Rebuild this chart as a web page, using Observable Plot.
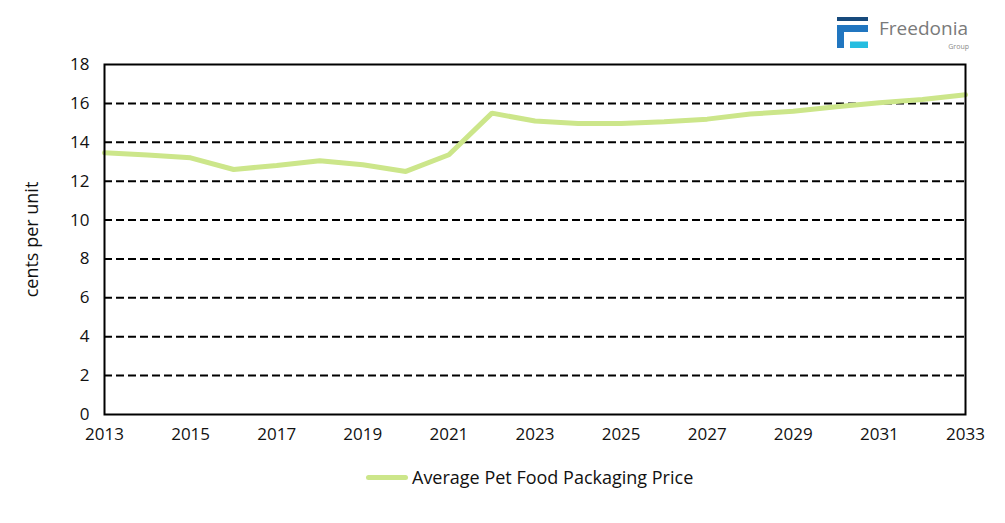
<!DOCTYPE html>
<html>
<head>
<meta charset="utf-8">
<script src="https://cdn.jsdelivr.net/npm/d3@7"></script>
<script src="https://cdn.jsdelivr.net/npm/@observablehq/plot@0.6"></script>
<style>
  html, body { margin: 0; padding: 0; background: #fff; }
  body { width: 1005px; height: 523px; position: relative; overflow: hidden; font-family: "Open Sans", "Noto Sans", sans-serif; }
  #chart { position: absolute; left: 0; top: 0; }
  #logo { position: absolute; left: 830px; top: 10px; }
  #legend { position: absolute; left: 366px; top: 465px; display: flex; align-items: center; font-size: 18px; color: #111; }
  #legend .sw { width: 42px; height: 5px; border-radius: 3px; background: #cce68a; margin-right: 4px; }
</style>
</head>
<body>
<div id="chart"></div>
<svg id="logo" width="170" height="45" viewBox="830 10 170 45">
  <rect x="837" y="17" width="31" height="4" fill="#174a7c"/>
  <path d="M837 25 H868 V32 H844 V48 H837 Z" fill="#2176c0"/>
  <rect x="850" y="41.5" width="18" height="6.5" fill="#25bde0"/>
  <text x="968" y="35" text-anchor="end" font-family="Open Sans, sans-serif" font-size="19" fill="#7a7a7a">Freedonia</text>
  <text x="969" y="49" text-anchor="end" font-family="Open Sans, sans-serif" font-size="7" fill="#8a8a8a">Group</text>
</svg>
<div id="legend"><div class="sw"></div><span>Average Pet Food Packaging Price</span></div>
<script>
const years = [2013,2014,2015,2016,2017,2018,2019,2020,2021,2022,2023,2024,2025,2026,2027,2028,2029,2030,2031,2032,2033];
const price = [13.46,13.35,13.2,12.6,12.81,13.05,12.84,12.5,13.36,15.5,15.09,14.97,14.97,15.05,15.19,15.45,15.6,15.83,16.03,16.2,16.44];
const xTicks = [2013,2015,2017,2019,2021,2023,2025,2027,2029,2031,2033];
const yTicks = [0,2,4,6,8,10,12,14,16,18];
const gridValues = [2,4,6,8,10,12,14,16];
const seriesName = "Average Pet Food Packaging Price";

const data = years.map((y, i) => ({year: y, value: price[i]}));

const chart = Plot.plot({
  width: 1005,
  height: 450,
  marginLeft: 104,
  marginRight: 40,
  marginTop: 64,
  marginBottom: 36,
  style: {fontFamily: "Open Sans, Noto Sans, sans-serif", fontSize: "17px", color: "#111", background: "transparent"},
  x: {domain: [2013, 2033], ticks: xTicks, tickFormat: d => String(d), tickSize: 0, tickPadding: 13, label: null},
  y: {domain: [0, 18], ticks: yTicks, tickSize: 0, tickPadding: 15, label: null},
  marks: [
    Plot.ruleY(gridValues, {stroke: "#000", strokeWidth: 2, strokeDasharray: "8,4"}),
    Plot.line(data, {x: "year", y: "value", stroke: "#cce68a", strokeWidth: 5, strokeLinejoin: "miter", title: () => seriesName}),
    Plot.frame({stroke: "#000", strokeWidth: 2}),
    Plot.axisX({ticks: xTicks, tickFormat: d => String(d), tickSize: 0, tickPadding: 13, fontSize: 17, label: null}),
    Plot.axisY({ticks: yTicks, tickSize: 0, tickPadding: 15, fontSize: 17, label: null}),
    Plot.text(["cents per unit"], {frameAnchor: "left", textAnchor: "middle", dx: -72, rotate: -90, fontSize: 18})
  ]
});
document.getElementById("chart").appendChild(chart);
</script>
</body>
</html>
